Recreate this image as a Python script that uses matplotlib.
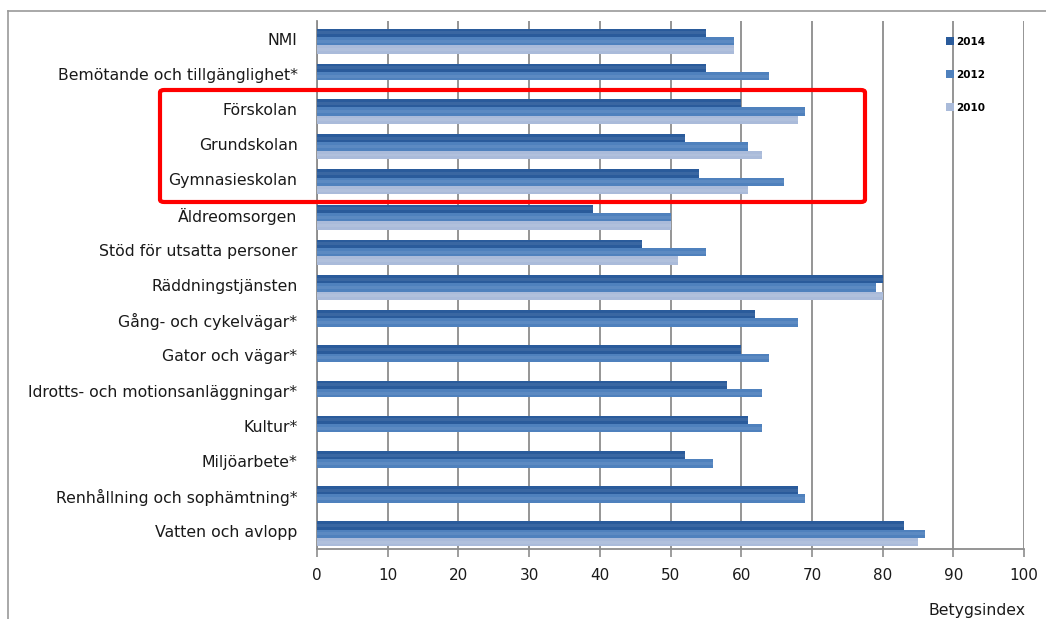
import matplotlib
matplotlib.use("Agg")
import matplotlib.pyplot as plt
import numpy as np
from matplotlib.patches import FancyBboxPatch
from matplotlib.lines import Line2D

categories = [
    "NMI",
    "Bemötande och tillgänglighet*",
    "Förskolan",
    "Grundskolan",
    "Gymnasieskolan",
    "Äldreomsorgen",
    "Stöd för utsatta personer",
    "Räddningstjänsten",
    "Gång- och cykelvägar*",
    "Gator och vägar*",
    "Idrotts- och motionsanläggningar*",
    "Kultur*",
    "Miljöarbete*",
    "Renhållning och sophämtning*",
    "Vatten och avlopp",
]

values_2014 = [55, 55, 60, 52, 54, 39, 46, 80, 62, 60, 58, 61, 52, 68, 83]
values_2012 = [59, 64, 69, 61, 66, 50, 55, 79, 68, 64, 63, 63, 56, 69, 86]
values_2010 = [59, np.nan, 68, 63, 61, 50, 51, 80, np.nan, np.nan, np.nan, np.nan, np.nan, np.nan, 85]

series_labels = ["2014", "2012", "2010"]
colors = ["#2A5B9B", "#4F81BD", "#AABBDA"]

x_ticks = list(range(0, 101, 10))
x_label = "Betygsindex"

W, H = 1046, 619
fig = plt.figure(figsize=(W / 100, H / 100), dpi=100)
ax = fig.add_axes([317 / W, 1 - 549 / H, (1024 - 317) / W, (549 - 21) / H])

n = len(categories)
y = np.arange(n)
bh = 0.237
shift = 0.07
offsets = [-bh, 0, bh]
handles = []
for vals, off, col, lab in zip([values_2014, values_2012, values_2010], offsets, colors, series_labels):
    v = np.nan_to_num(np.array(vals, dtype=float))
    h = ax.barh(y + off + shift, v, height=bh, color=col, label=lab, zorder=3, linewidth=0)
    # faint sheen along the middle of each bar
    ax.barh(y + off + shift, v, height=bh * 0.35, color="white", alpha=0.08,
            zorder=4, linewidth=0)
    handles.append(h)

ax.set_ylim(n - 0.5, -0.5)
ax.set_xlim(0, 100)
ax.set_yticks(y)
ax.set_yticklabels(categories, fontsize=11.3, color="#1a1a1a")
ax.set_xticks(x_ticks)
ax.set_xticklabels([str(t) for t in x_ticks], fontsize=11, color="#1a1a1a")
ax.tick_params(axis="y", length=0, pad=14)
ax.tick_params(axis="x", length=6, width=1.2, color="#8c8c8c", pad=8)
ax.xaxis.grid(True, color="#8c8c8c", linewidth=1.3, zorder=0)
ax.set_axisbelow(True)
for s in ["top", "right"]:
    ax.spines[s].set_visible(False)
for s in ["left", "bottom"]:
    ax.spines[s].set_color("#8c8c8c")
    ax.spines[s].set_linewidth(1.3)

leg = ax.legend(handles=handles, loc="upper left", bbox_to_anchor=(0.877, 0.988),
                frameon=False, handlelength=0.75, handleheight=0.75,
                handletextpad=0.2, labelspacing=2.2,
                prop={"weight": "bold", "size": 7.5})

fig.text(1026 / W, 1 - 610 / H, x_label, ha="right", va="center", fontsize=11.3, color="#1a1a1a")

# outer frame lines
fig.add_artist(Line2D([8 / W, 1.0], [1 - 11 / H, 1 - 11 / H], transform=fig.transFigure,
                      color="#9a9a9a", linewidth=1.2))
fig.add_artist(Line2D([8 / W, 8 / W], [1 - 11 / H, 0.0], transform=fig.transFigure,
                      color="#9a9a9a", linewidth=1.2))

# red highlight around the school categories
box = FancyBboxPatch((160 / W, 1 - 202 / H), (865 - 160) / W, (202 - 90) / H,
                     boxstyle="round,pad=0,rounding_size=0.004", transform=fig.transFigure,
                     fill=False, edgecolor="#FF0000", linewidth=3.0, zorder=10)
fig.add_artist(box)

fig.savefig("out.png", dpi=100)
